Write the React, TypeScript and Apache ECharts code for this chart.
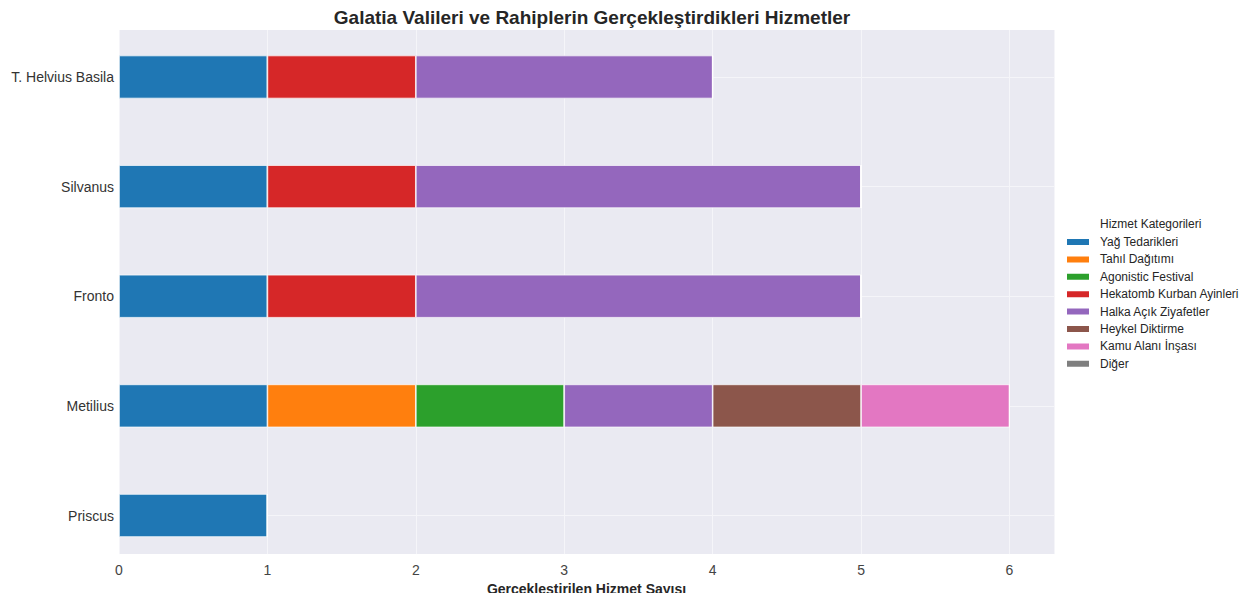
import React, { useEffect, useRef } from "react";
import * as echarts from "echarts";

const people = ["Priscus", "Metilius", "Fronto", "Silvanus", "T. Helvius Basila"];
const categories = [
  "Yağ Tedarikleri",
  "Tahıl Dağıtımı",
  "Agonistic Festival",
  "Hekatomb Kurban Ayinleri",
  "Halka Açık Ziyafetler",
  "Heykel Diktirme",
  "Kamu Alanı İnşası",
  "Diğer",
];
const colors = ["#1f77b4", "#ff7f0e", "#2ca02c", "#d62728", "#9467bd", "#8c564b", "#e377c2", "#7f7f7f"];
// values per category, in order of people (bottom to top)
const yagTedarikleri = [1, 1, 1, 1, 1];
const tahilDagitimi = [0, 1, 0, 0, 0];
const agonisticFestival = [0, 1, 0, 0, 0];
const hekatomb = [0, 0, 1, 1, 1];
const halkaZiyafet = [0, 1, 3, 3, 2];
const heykel = [0, 1, 0, 0, 0];
const kamuAlani = [0, 1, 0, 0, 0];
const diger = [0, 0, 0, 0, 0];
const seriesValues = [yagTedarikleri, tahilDagitimi, agonisticFestival, hekatomb, halkaZiyafet, heykel, kamuAlani, diger];
const xTicks = [0, 1, 2, 3, 4, 5, 6];

const FONT = "Liberation Sans, Arial, sans-serif";
const GRIDLINE = "#f5f5f9";

export default function App() {
  const ref = useRef<HTMLDivElement>(null);
  useEffect(() => {
    if (!ref.current) return;
    const chart = echarts.init(ref.current, undefined, { renderer: "svg" });
    chart.setOption({
      animation: false,
      backgroundColor: "#ffffff",
      textStyle: { fontFamily: FONT },
      title: [
        {
          text: "Galatia Valileri ve Rahiplerin Gerçekleştirdikleri Hizmetler",
          left: 587,
          textAlign: "center",
          top: 3,
          textStyle: { fontSize: 19, fontWeight: "bold", color: "#262626", fontFamily: FONT },
        },
        {
          text: "Hizmet Kategorileri",
          left: 1095,
          top: 213,
          textStyle: { fontSize: 12, fontWeight: "normal", color: "#262626", fontFamily: FONT },
        },
      ],
      legend: {
        orient: "vertical",
        left: 1065,
        top: 235,
        padding: 0,
        itemWidth: 24,
        itemHeight: 8,
        itemGap: 3.4,
        icon: "rect",
        data: categories,
        textStyle: { fontSize: 12, lineHeight: 14, color: "#262626", fontFamily: FONT, padding: [0, 0, 0, 5] },
      },
      grid: [
        { left: 119, right: 199, top: 30, bottom: 40, show: true, backgroundColor: "#eaeaf2", borderWidth: 0 },
        { left: 119, right: 199, top: 77, bottom: 85.5, show: false },
      ],
      xAxis: [
        {
          type: "value",
          gridIndex: 0,
          min: 0,
          max: 6.3,
          interval: 1,
          name: "Gerçekleştirilen Hizmet Sayısı",
          nameLocation: "middle",
          nameGap: 21,
          nameTextStyle: { fontSize: 14, fontWeight: "bold", color: "#262626", fontFamily: FONT },
          axisLine: { show: false },
          axisTick: { show: false },
          axisLabel: {
            fontSize: 14,
            color: "#444444",
            margin: 9,
            showMaxLabel: false,
            formatter: (v: number) => (xTicks.includes(v) ? String(v) : ""),
          },
          splitLine: { show: true, lineStyle: { color: GRIDLINE, width: 1 } },
        },
        {
          type: "value",
          gridIndex: 1,
          min: 0,
          max: 6.3,
          show: false,
          splitLine: { show: false },
        },
      ],
      yAxis: [
        { type: "value", gridIndex: 0, show: false, splitLine: { show: false } },
        {
          type: "category",
          gridIndex: 1,
          data: people,
          boundaryGap: false,
          axisLine: { show: false },
          axisTick: { show: false },
          axisLabel: { fontSize: 14, color: "#333333", margin: 5 },
          splitLine: { show: true, lineStyle: { color: GRIDLINE, width: 1 } },
        },
      ],
      series: categories.map((name, i) => ({
        name,
        type: "bar",
        stack: "total",
        xAxisIndex: 1,
        yAxisIndex: 1,
        barWidth: 43,
        clip: false,
        itemStyle: { color: colors[i], borderColor: "#ffffff", borderWidth: 0.7 },
        data: seriesValues[i],
      })),
    });
    return () => chart.dispose();
  }, []);
  return <div ref={ref} style={{ width: 1253, height: 601, margin: -8 }} />;
}
